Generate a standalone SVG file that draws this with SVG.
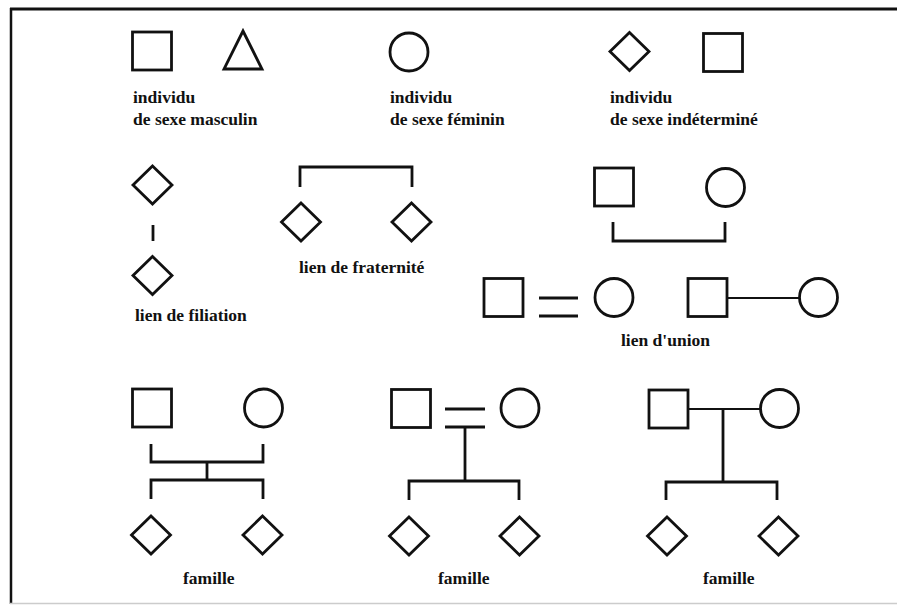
<svg xmlns="http://www.w3.org/2000/svg" width="897" height="605" viewBox="0 0 897 605">
  <style>
    .shape { fill: none; stroke: #111; stroke-width: 2.8; stroke-linejoin: miter; }
    .link { fill: none; stroke: #111; stroke-width: 2.8; stroke-linecap: butt; }
    .thin { fill: none; stroke: #111; stroke-width: 2; }
    .label { font-family: "Liberation Serif", "Times New Roman", serif; font-weight: bold; font-size: 17.5px; fill: #111; }
  </style>
  <defs>
    <rect id="sq" class="shape" x="-19.5" y="-19" width="39" height="38"/>
    <circle id="ci" class="shape" r="19"/>
    <path id="di" class="shape" d="M0,-19 L19.5,0 L0,19 L-19.5,0 Z"/>
  </defs>

  <rect width="897" height="605" fill="#fff"/>

  <!-- frame -->
  <g id="frame">
    <line x1="11" y1="8" x2="11" y2="604" stroke="#111" stroke-width="2.5"/>
    <line x1="10" y1="9" x2="897" y2="9" stroke="#111" stroke-width="3"/>
    <line x1="10" y1="603.5" x2="897" y2="603.5" stroke="#ccc" stroke-width="1.5"/>
  </g>

  <!-- legend: individuals -->
  <g id="masculin">
    <use href="#sq" x="152" y="51"/>
    <path class="shape" d="M243,31 L262,69 L224,69 Z"/>
    <text class="label" x="133" y="103">individu</text>
    <text class="label" x="133" y="125">de sexe masculin</text>
  </g>
  <g id="feminin">
    <use href="#ci" x="409" y="52"/>
    <text class="label" x="390" y="103">individu</text>
    <text class="label" x="390" y="125">de sexe féminin</text>
  </g>
  <g id="indetermine">
    <use href="#di" x="629.5" y="51.5"/>
    <use href="#sq" x="723" y="52.5"/>
    <text class="label" x="610" y="103">individu</text>
    <text class="label" x="610" y="125">de sexe indéterminé</text>
  </g>

  <!-- filiation -->
  <g id="filiation">
    <use href="#di" x="152.5" y="185"/>
    <use href="#di" x="152.5" y="275.5"/>
    <text class="label" x="135" y="321">lien de filiation</text>
  </g>

  <!-- fraternite -->
  <g id="fraternite">
    <use href="#di" x="301" y="222"/>
    <use href="#di" x="411.5" y="222"/>
    <text class="label" x="299" y="273">lien de fraternité</text>
  </g>

  <!-- union -->
  <g id="union">
    <use href="#sq" x="614" y="187"/>
    <use href="#ci" x="725.5" y="187.5"/>
    <use href="#sq" x="503.5" y="297.5"/>
    <use href="#ci" x="614" y="297.5"/>
    <use href="#sq" x="707.5" y="297.5"/>
    <use href="#ci" x="818.5" y="297.5"/>
    <text class="label" x="621" y="346">lien d'union</text>
  </g>

  <!-- families -->
  <g id="famille-1">
    <use href="#sq" x="152" y="408"/>
    <use href="#ci" x="263.5" y="408"/>
    <use href="#di" x="151" y="535"/>
    <use href="#di" x="262.5" y="535"/>
    <text class="label" x="183" y="584">famille</text>
  </g>
  <g id="famille-2">
    <use href="#sq" x="411" y="408.5"/>
    <use href="#ci" x="520" y="408"/>
    <use href="#di" x="409" y="536"/>
    <use href="#di" x="519.5" y="536"/>
    <text class="label" x="438" y="584">famille</text>
  </g>
  <g id="famille-3">
    <use href="#sq" x="668.5" y="409"/>
    <use href="#ci" x="779.5" y="408.5"/>
    <use href="#di" x="667" y="536"/>
    <use href="#di" x="778.5" y="536"/>
    <text class="label" x="703" y="584">famille</text>
  </g>

  <!-- connectors -->
  <g id="connectors">
    <!-- filiation -->
    <line class="link" x1="153" y1="225" x2="153" y2="241"/>
    <!-- fraternite -->
    <path class="link" d="M300,187 V167 H412 V187"/>
    <!-- union: bracket, double line, single line -->
    <path class="link" d="M613,222 V241 H725 V222"/>
    <line class="link" x1="539" y1="298" x2="578" y2="298"/>
    <line class="link" x1="539" y1="316" x2="578" y2="316"/>
    <line class="thin" x1="727" y1="298" x2="799" y2="298"/>
    <!-- famille 1 -->
    <path class="link" d="M151,444 V462 H263 V444"/>
    <line class="link" x1="207" y1="462" x2="207" y2="480"/>
    <path class="link" d="M151,499 V480 H263 V499"/>
    <!-- famille 2 -->
    <line class="link" x1="445" y1="409" x2="485" y2="409"/>
    <line class="link" x1="445" y1="427" x2="485" y2="427"/>
    <line class="link" x1="465" y1="427" x2="465" y2="481"/>
    <path class="link" d="M409,500 V481 H519 V500"/>
    <!-- famille 3 -->
    <line class="thin" x1="688" y1="409" x2="760" y2="409"/>
    <line class="link" x1="723" y1="409" x2="723" y2="482"/>
    <path class="link" d="M666,500 V482 H777 V500"/>
  </g>
</svg>
